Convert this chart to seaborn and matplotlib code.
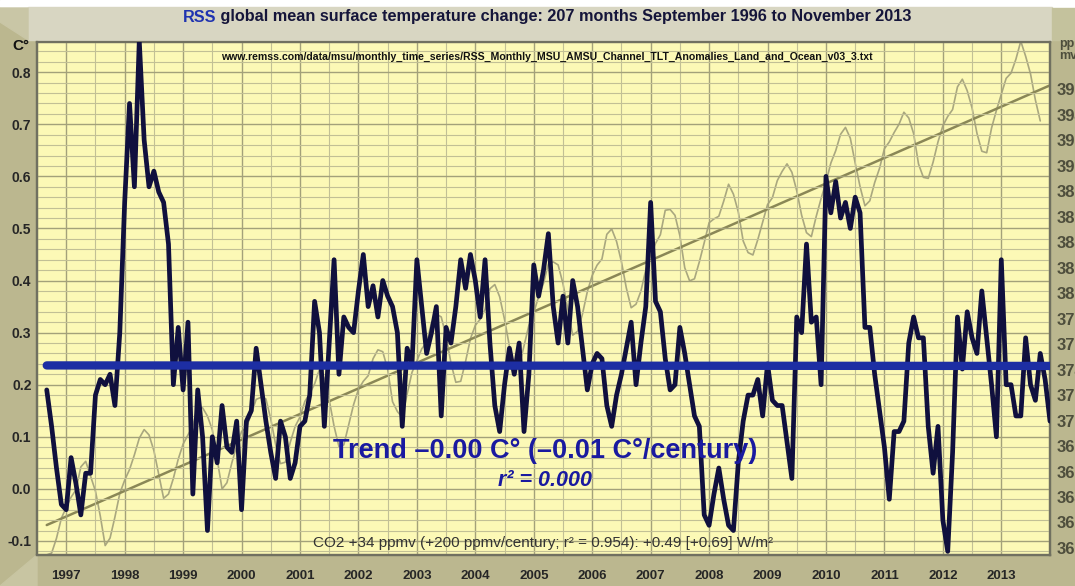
import numpy as np
import matplotlib
matplotlib.use("Agg")
import matplotlib.pyplot as plt
from matplotlib.patches import Rectangle, Polygon
import seaborn as sns

# RSS TLT anomalies (C°), Sep 1996 .. Nov 2013
temp_1996 = [0.19, 0.12, 0.04, -0.03]
temp_1997 = [-0.04, 0.06, 0.01, -0.05, 0.03, 0.03, 0.18, 0.21, 0.20, 0.22, 0.16, 0.30]
temp_1998 = [0.55, 0.74, 0.58, 0.86, 0.67, 0.58, 0.61, 0.57, 0.55, 0.47, 0.20, 0.31]
temp_1999 = [0.19, 0.32, -0.01, 0.19, 0.10, -0.08, 0.10, 0.05, 0.16, 0.08, 0.07, 0.13]
temp_2000 = [-0.04, 0.13, 0.15, 0.27, 0.20, 0.13, 0.07, 0.02, 0.13, 0.10, 0.02, 0.05]
temp_2001 = [0.12, 0.13, 0.18, 0.36, 0.30, 0.12, 0.28, 0.44, 0.22, 0.33, 0.31, 0.30]
temp_2002 = [0.38, 0.45, 0.35, 0.39, 0.33, 0.40, 0.37, 0.35, 0.30, 0.12, 0.27, 0.24]
temp_2003 = [0.44, 0.35, 0.26, 0.30, 0.35, 0.14, 0.31, 0.28, 0.35, 0.44, 0.385, 0.45]
temp_2004 = [0.40, 0.33, 0.44, 0.28, 0.16, 0.11, 0.20, 0.27, 0.22, 0.28, 0.11, 0.22]
temp_2005 = [0.43, 0.37, 0.42, 0.49, 0.35, 0.28, 0.37, 0.28, 0.40, 0.35, 0.27, 0.19]
temp_2006 = [0.24, 0.26, 0.25, 0.16, 0.12, 0.18, 0.22, 0.27, 0.32, 0.20, 0.28, 0.35]
temp_2007 = [0.55, 0.36, 0.34, 0.25, 0.19, 0.20, 0.31, 0.26, 0.20, 0.14, 0.12, -0.05]
temp_2008 = [-0.07, -0.01, 0.04, -0.02, -0.07, -0.08, 0.05, 0.13, 0.18, 0.18, 0.21, 0.14]
temp_2009 = [0.24, 0.17, 0.16, 0.16, 0.09, 0.02, 0.33, 0.30, 0.47, 0.32, 0.33, 0.20]
temp_2010 = [0.60, 0.53, 0.59, 0.52, 0.55, 0.50, 0.56, 0.53, 0.31, 0.31, 0.22, 0.15]
temp_2011 = [0.08, -0.02, 0.11, 0.11, 0.13, 0.28, 0.33, 0.29, 0.29, 0.12, 0.03, 0.12]
temp_2012 = [-0.06, -0.12, 0.07, 0.33, 0.23, 0.34, 0.29, 0.26, 0.38, 0.29, 0.20, 0.10]
temp_2013 = [0.44, 0.20, 0.20, 0.14, 0.14, 0.29, 0.20, 0.17, 0.26, 0.21, 0.13]

# Mauna Loa CO2 (ppmv), Sep 1996 .. Sep 2013
co2_1996 = [359.46, 359.60, 360.76, 362.33]
co2_1997 = [363.18, 363.99, 364.56, 366.36, 366.80, 365.63, 364.47, 362.50, 360.19, 360.78, 362.43, 364.28]
co2_1998 = [365.32, 366.15, 367.31, 368.61, 369.29, 368.87, 367.64, 365.77, 363.90, 364.23, 365.46, 366.97]
co2_1999 = [368.15, 368.87, 369.59, 371.14, 371.00, 370.35, 369.27, 366.94, 364.63, 365.12, 366.67, 368.01]
co2_2000 = [369.14, 369.46, 370.52, 371.66, 371.82, 371.70, 370.12, 368.12, 366.62, 366.73, 368.29, 369.53]
co2_2001 = [370.28, 371.50, 372.12, 372.87, 374.02, 373.30, 371.62, 369.55, 367.96, 368.09, 369.68, 371.24]
co2_2002 = [372.44, 373.08, 373.52, 374.85, 375.55, 375.40, 374.02, 371.48, 370.71, 370.25, 372.08, 373.78]
co2_2003 = [374.68, 375.63, 376.11, 377.65, 378.35, 378.13, 376.62, 374.50, 373.00, 373.08, 374.64, 376.42]
co2_2004 = [377.47, 377.95, 378.73, 380.34, 380.67, 379.71, 377.93, 375.83, 374.14, 374.26, 375.86, 377.47]
co2_2005 = [378.46, 379.73, 380.77, 382.29, 382.45, 382.21, 380.74, 378.74, 376.70, 377.00, 378.35, 380.11]
co2_2006 = [381.38, 382.19, 382.67, 384.61, 385.03, 384.05, 382.46, 380.41, 378.85, 379.13, 380.15, 381.82]
co2_2007 = [382.89, 383.90, 384.58, 386.50, 386.56, 386.10, 384.50, 381.99, 380.96, 381.12, 382.45, 383.95]
co2_2008 = [385.52, 385.82, 386.03, 387.21, 388.54, 387.76, 386.36, 384.09, 383.18, 382.99, 384.19, 385.56]
co2_2009 = [386.94, 387.48, 388.82, 389.55, 390.14, 389.48, 388.03, 386.11, 384.74, 384.43, 386.02, 387.42]
co2_2010 = [388.71, 390.20, 391.17, 392.46, 393.00, 392.15, 390.20, 388.35, 386.85, 387.24, 388.67, 389.79]
co2_2011 = [391.33, 391.86, 392.60, 393.25, 394.19, 393.74, 392.51, 390.13, 389.08, 389.00, 390.28, 391.86]
co2_2012 = [393.12, 393.86, 394.40, 396.18, 396.78, 395.88, 394.52, 392.54, 391.13, 391.01, 392.95, 394.34]
co2_2013 = [395.61, 396.85, 397.26, 398.35, 399.76, 398.58, 397.20, 395.15, 393.51]

temp_trend = [0.237, 0.236]      # flat least-squares trend, first and last month
co2_trend = [361.8, 396.3]

years = list(range(1997, 2014))
temp_ticks = [-0.1, 0.0, 0.1, 0.2, 0.3, 0.4, 0.5, 0.6, 0.7, 0.8]
co2_ticks = list(range(360, 398, 2))

title_rss = "RSS"
title_txt = " global mean surface temperature change: 207 months September 1996 to November 2013"
url_txt = "www.remss.com/data/msu/monthly_time_series/RSS_Monthly_MSU_AMSU_Channel_TLT_Anomalies_Land_and_Ocean_v03_3.txt"
trend_txt = "Trend \u20130.00 C\u00b0 (\u20130.01 C\u00b0/century)"
r2_txt = "r\u00b2 = 0.000"
co2_txt = "CO2 +34 ppmv (+200 ppmv/century; r\u00b2 = 0.954): +0.49 [+0.69] W/m\u00b2"

temp = (temp_1996 + temp_1997 + temp_1998 + temp_1999 + temp_2000 + temp_2001
        + temp_2002 + temp_2003 + temp_2004 + temp_2005 + temp_2006 + temp_2007
        + temp_2008 + temp_2009 + temp_2010 + temp_2011 + temp_2012 + temp_2013)
co2 = (co2_1996 + co2_1997 + co2_1998 + co2_1999 + co2_2000 + co2_2001
       + co2_2002 + co2_2003 + co2_2004 + co2_2005 + co2_2006 + co2_2007
       + co2_2008 + co2_2009 + co2_2010 + co2_2011 + co2_2012 + co2_2013)

start = 1996 + 8 / 12   # September 1996
t_temp = start + np.arange(len(temp)) / 12
t_co2 = start + np.arange(len(co2)) / 12
t_ends = [t_temp[0], t_temp[-1]]

sns.set_style("white")
plt.rcParams['font.family'] = ['Liberation Sans', 'DejaVu Sans']

W, H = 1075, 586
fig = plt.figure(figsize=(W / 100, H / 100), dpi=100)
fig.patch.set_facecolor('#bbb78f')

def fx(x):
    return x / W

def fy(y):
    return 1 - y / H

# frame decoration
fig.patches.append(Rectangle((0, fy(7)), 1, 7 / H, transform=fig.transFigure,
                             color='white', zorder=0))
fig.patches.append(Rectangle((fx(28), fy(40)), fx(1052) - fx(28), 33 / H,
                             transform=fig.transFigure, color='#d8d6c2', zorder=0))
fig.patches.append(Polygon([(fx(0), fy(8)), (fx(28), fy(8)), (fx(28), fy(40)), (fx(0), fy(22))],
                           transform=fig.transFigure, color='#c9c6a6', zorder=0))
fig.patches.append(Polygon([(fx(1052), fy(8)), (fx(1075), fy(8)), (fx(1075), fy(40)), (fx(1052), fy(40))],
                           transform=fig.transFigure, color='#c4c29d', zorder=0))
fig.patches.append(Polygon([(fx(0), fy(586)), (fx(37), fy(555)), (fx(37), fy(586))],
                           transform=fig.transFigure, color='#c8c5a2', zorder=0))

ax = fig.add_axes([fx(37), fy(555), fx(1050) - fx(37), (555 - 42) / H])
ax2 = ax.twinx()
ax2.patch.set_visible(True)
ax2.set_facecolor('#fcf9b6')
ax.set_zorder(ax2.get_zorder() + 1)
ax.patch.set_visible(False)

# CO2 series and its trend on the right-hand axis
sns.lineplot(x=t_co2, y=co2, ax=ax2, color='#a9a77f', lw=1.2)
sns.lineplot(x=t_ends, y=co2_trend, ax=ax2, color='#8a8756', lw=1.8)

# temperature series and its trend
sns.lineplot(x=t_temp, y=temp, ax=ax, color='#10103e', lw=3.4, zorder=3)
sns.lineplot(x=t_ends, y=temp_trend, ax=ax, color='#1d2ea3', lw=6, zorder=4)

ax.set_xlim(t_temp[0], t_temp[-1])
ax.set_ylim(-0.127, 0.858)
ax2.set_ylim(359.45, 399.7)

ax.set_xticks(years)
ax.set_xticks([y + 0.5 for y in years[:-1]] + [1996.5], minor=True)
ax.set_yticks(temp_ticks)
ax.set_yticks(np.arange(-0.12, 0.86, 0.02), minor=True)
ax.set_yticklabels([f"{v:.1f}" for v in temp_ticks])
ax.set_xticklabels([str(y) for y in years])
ax2.set_yticks(co2_ticks)
ax2.set_yticklabels([str(v) for v in co2_ticks])

ax.grid(True, which='major', color='#a3a17a', lw=1.0)
ax.grid(True, which='minor', color='#c2c095', lw=0.8)
ax.set_axisbelow(True)
ax.tick_params(which='both', length=0)
ax2.tick_params(which='both', length=0)
ax.tick_params(axis='x', pad=11, labelsize=9.5)
ax.tick_params(axis='y', pad=4, labelsize=10)
ax2.tick_params(axis='y', pad=5, labelsize=12, labelcolor='#4e4e3c')
for lab in ax.get_xticklabels() + ax.get_yticklabels() + ax2.get_yticklabels():
    lab.set_fontweight('bold')
ax.set_xlabel('')
ax.set_ylabel('')
ax2.set_ylabel('')
for sp in list(ax.spines.values()) + list(ax2.spines.values()):
    sp.set_color('#707060')
    sp.set_linewidth(1.6)

# texts
renderer = fig.canvas.get_renderer()
t_rss = fig.text(fx(183), fy(17), title_rss, color='#1f33b0', fontsize=11.7,
                 fontweight='bold', va='center', ha='left')
bb = t_rss.get_window_extent(renderer=renderer)
fig.text(bb.x1 / W, fy(17), title_txt, color='#15153a', fontsize=11.7, fontweight='bold',
         va='center', ha='left')
fig.text(fx(547), fy(57), url_txt, color='#111111', fontsize=7.6, fontweight='bold',
         va='center', ha='center')
fig.text(fx(545), fy(451), trend_txt, color='#1a1aa0', fontsize=19.5, fontweight='bold',
         va='center', ha='center')
fig.text(fx(545), fy(480), r2_txt, color='#1a1aa0', fontsize=15.5, fontweight='bold',
         style='italic', va='center', ha='center')
fig.text(fx(543), fy(543), co2_txt, color='#333333', fontsize=11,
         va='center', ha='center')
fig.text(fx(12), fy(46), "C\u00b0", color='#111111', fontsize=11, fontweight='bold',
         va='center', ha='left')
fig.text(fx(1059), fy(50), "pp\nmv", color='#4e4e3c', fontsize=9, fontweight='bold',
         va='center', ha='left', linespacing=0.9)

fig.savefig("out.png", dpi=100, facecolor=fig.get_facecolor())
